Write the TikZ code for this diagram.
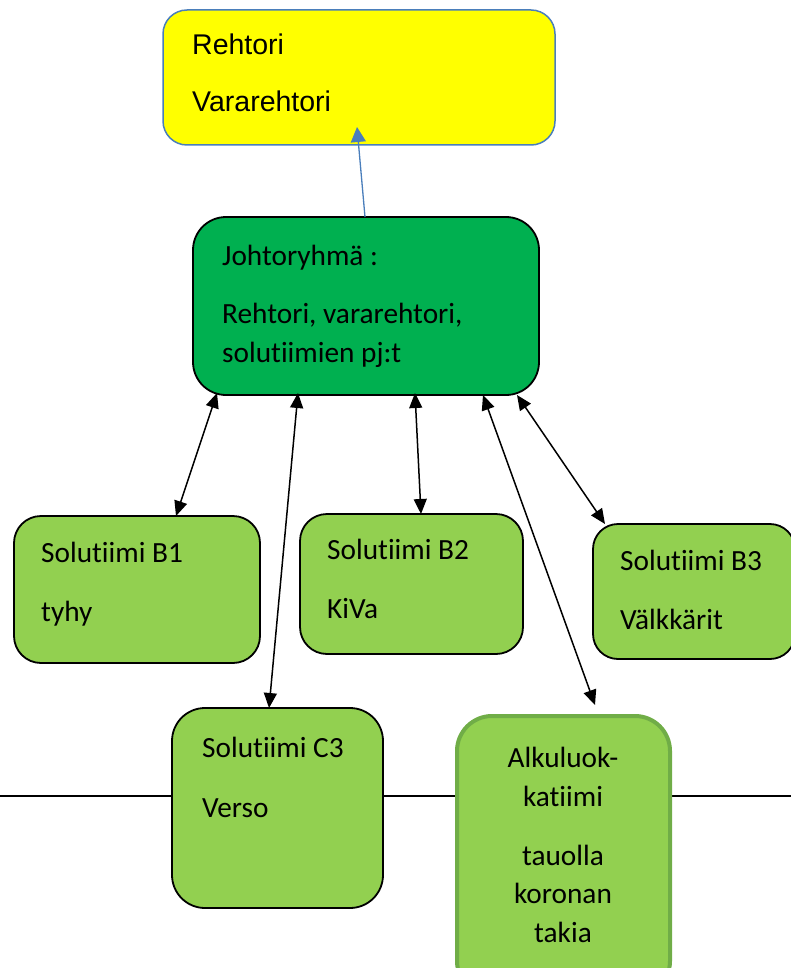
\documentclass[tikz,border=0pt]{standalone}
\usepackage{fontspec}
\setmainfont{Carlito}[Ligatures={NoCommon}]
\newfontfamily\arialf{Liberation Sans}
\usetikzlibrary{arrows.meta}
\definecolor{yel}{HTML}{FFFF00}
\definecolor{bluebd}{HTML}{4A7EBB}
\definecolor{dkgreen}{HTML}{00B050}
\definecolor{ltgreen}{HTML}{92D050}
\definecolor{alkubd}{HTML}{70AD47}
\begin{document}
\begin{tikzpicture}[x=1pt,y=-1pt,
 box/.style={draw=black, line width=1.8pt, rectangle, anchor=north west, inner sep=0pt, outer sep=0pt},
 txt/.style={anchor=base west, inner sep=0pt, font=\fontsize{29.3}{35}\selectfont},
 ctxt/.style={anchor=base, inner sep=0pt, font=\fontsize{29.3}{35}\selectfont},
 atxt/.style={anchor=base west, inner sep=0pt, font=\arialf\fontsize{28.5}{34}\selectfont},
 link/.style={line width=1.5pt, {Triangle[length=15pt,width=13pt]}-{Triangle[length=15pt,width=13pt]}},
 uplink/.style={draw=bluebd, line width=1.3pt, -{Triangle[length=15pt,width=15pt]}},
]
\useasboundingbox (0,0) rectangle (791,968);
% horizontal line behind the lower boxes
\coordinate (hl) at (0,796);
\coordinate (hr) at (791,796);
\draw[line width=2pt] (hl) -- (hr);

% boxes
\node[box, draw=bluebd, line width=1.5pt, fill=yel, rounded corners=24pt,
      minimum width=392pt, minimum height=135pt] (rek) at (163,10) {};
\node[box, fill=dkgreen, rounded corners=33pt,
      minimum width=346pt, minimum height=178pt] (jr) at (193,217) {};
\node[box, fill=ltgreen, rounded corners=27pt,
      minimum width=246pt, minimum height=147pt] (b1) at (14,516) {};
\node[box, fill=ltgreen, rounded corners=27pt,
      minimum width=223pt, minimum height=140pt] (b2) at (300,514) {};
\node[box, fill=ltgreen, rounded corners=25pt,
      minimum width=202pt, minimum height=135pt] (b3) at (593,524) {};
\node[box, fill=ltgreen, rounded corners=33pt,
      minimum width=211pt, minimum height=200pt] (c3) at (172,708) {};
\node[box, draw=alkubd, line width=4pt, fill=ltgreen, rounded corners=35pt,
      minimum width=213pt, minimum height=280pt] (alku) at (457,716) {};

% texts
\node[atxt] (t1) at (192,55) {Rehtori};
\node[atxt] (t2) at (192,112) {Vararehtori};
\node[txt] (t3) at (222,265) {Johtoryhmä :};
\node[txt] (t4) at (222,323) {Rehtori, vararehtori,};
\node[txt] (t5) at (222,362) {solutiimien pj:t};
\node[txt] (t6) at (41,562) {Solutiimi B1};
\node[txt] (t7) at (41,621) {tyhy};
\node[txt] (t8) at (327,559) {Solutiimi B2};
\node[txt] (t9) at (327,618) {KiVa};
\node[txt] (t10) at (620,570) {Solutiimi B3};
\node[txt] (t11) at (620,629) {Välkkärit};
\node[txt] (t12) at (202,757) {Solutiimi C3};
\node[txt] (t13) at (202,817) {Verso};
\node[ctxt] (t14) at (563,767) {Alkuluok-};
\node[ctxt] (t15) at (563,806) {katiimi};
\node[ctxt] (t16) at (563,865) {tauolla};
\node[ctxt] (t17) at (563,903) {koronan};
\node[ctxt] (t18) at (563,942) {takia};

% connector end points
\coordinate (up0) at (365,217);
\coordinate (up1) at (357,127);
\coordinate (j1) at (217,393);
\coordinate (j2) at (298,393);
\coordinate (j3) at (415,393);
\coordinate (j4) at (483,395);
\coordinate (j5) at (517,395);
\coordinate (e1) at (176,516);
\coordinate (e2) at (269,708);
\coordinate (e3) at (421,514);
\coordinate (e4) at (595,705);
\coordinate (e5) at (605,524);

\draw[uplink] (up0) -- (up1);
\draw[link] (j1) -- (e1);
\draw[link] (j2) -- (e2);
\draw[link] (j3) -- (e3);
\draw[link] (j4) -- (e4);
\draw[link] (j5) -- (e5);
\end{tikzpicture}
\end{document}
